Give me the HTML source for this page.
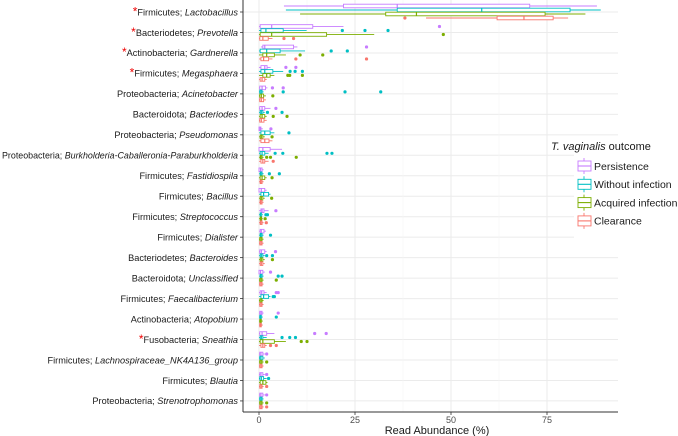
<!DOCTYPE html>
<html><head><meta charset="utf-8"><style>
body{margin:0;background:#fff}
svg{display:block;font-family:"Liberation Sans",Arial,sans-serif}
</style></head><body>
<svg id="chart" width="678" height="436" xmlns="http://www.w3.org/2000/svg">
<g id="grid"></g>
<g id="marks"></g>
<g id="axes"></g>
<g id="legend"></g>
</svg>
<script>
const phyla=["Firmicutes","Bacteriodetes","Actinobacteria","Firmicutes","Proteobacteria","Bacteroidota","Proteobacteria","Proteobacteria","Firmicutes","Firmicutes","Firmicutes","Firmicutes","Bacteriodetes","Bacteroidota","Firmicutes","Actinobacteria","Fusobacteria","Firmicutes","Firmicutes","Proteobacteria"];
const genera=["Lactobacillus","Prevotella","Gardnerella","Megasphaera","Acinetobacter","Bacteriodes","Pseudomonas","Burkholderia-Caballeronia-Paraburkholderia","Fastidiospila","Bacillus","Streptococcus","Dialister","Bacteroides","Unclassified","Faecalibacterium","Atopobium","Sneathia","Lachnospiraceae_NK4A136_group","Blautia","Strenotrophomonas"];
const starred=[1,1,1,1,0,0,0,0,0,0,0,0,0,0,0,0,1,0,0,0];
const groups=["Persistence","Without infection","Acquired infection","Clearance"];
const xTicks=[0,25,50,75];
// each: [whiskerLow, q1, median, q3, whiskerHigh]
const persistence=[[6.5,22,36,70.5,88],[0,0.3,3.3,14,22],[0.5,1,1.5,9,10],[0,0.5,1.5,2.1,3],[0,0.2,0.8,1.7,2.2],[0,0.2,0.8,1.5,3],[0,0,0.3,0.5,1],[0,0,1,2.9,6],[0,0,0.4,0.8,1.2],[0,0,0.6,1.5,2],[0,0.5,0.8,1.3,2.5],[0,0.3,0.6,1.3,1.8],[0,0.2,0.6,1.5,2],[0,0,0.4,1,1.5],[0,0.3,0.7,1.3,2],[0,0.2,0.5,0.8,1.2],[0,0.2,0.8,2,4],[0,0.2,0.5,1,1.5],[0,0.2,0.5,1,1.5],[0,0.2,0.5,1,1.5]];
const without=[[7,36,58,81,89],[0,0.5,1.8,6.3,12.4],[0,0.3,2,5.5,12],[0,0.5,1.5,3.6,6.3],[0,0.2,0.5,0.8,1.2],[0,0.3,0.6,1,1.5],[0,0.5,1.5,2.9,4],[0,0.3,0.8,1.5,2.5],[0,0.3,0.5,0.8,1.2],[0,0.5,1.2,2.5,3],[0,0.3,0.4,0.6,1],[0,0.3,0.5,0.8,1.2],[0,0.3,0.6,1,1.5],[0,0.3,0.5,0.8,1.2],[0,0.5,1.2,2.5,3],[0,0.2,0.4,0.6,1],[0,0.3,0.6,1,2],[0,0.2,0.5,1,1.5],[0,0.2,0.6,1.2,2],[0,0.2,0.5,0.8,1.2]];
const acquired=[[10.7,33,41,74.5,85],[0,0.3,3.3,17.6,30],[0,1,2,4,7],[0,1,2,2.9,4],[0,0.2,0.6,1.2,1.8],[0,0.3,0.8,1.5,2],[0,0.3,0.6,1,1.5],[0,0.3,0.5,0.8,1.2],[0,0.3,0.8,1.5,2],[0,0.3,0.6,1,1.5],[0,0.3,0.5,0.7,1],[0,0.2,0.5,0.8,1.2],[0,0.3,0.6,1,1.5],[0,0.2,0.5,0.8,1.2],[0,0.2,0.5,0.8,1.2],[0,0.2,0.4,0.6,1],[0,0.3,1,4,7],[0,0.2,0.5,0.8,1.2],[0,0.3,1,1.8,2.2],[0,0.2,0.5,0.8,1.2]];
const clearance=[[43.5,62,69,76.6,80.5],[0,0.2,1,2.4,3.5],[0,0.5,1.2,2.5,3.5],[0,0.3,0.8,1.5,2],[0,0.2,0.6,1.2,1.8],[0,0.2,0.6,1.3,2],[0,0.5,1.5,2.6,3.5],[0,0.5,1,1.5,2.5],[0,0.3,0.5,0.8,1.2],[0,0.3,0.5,0.8,1.2],[0,0.3,0.5,0.8,1.2],[0,0.2,0.5,0.8,1.2],[0,0.3,0.6,1,1.5],[0,0.2,0.5,0.8,1.2],[0,0.2,0.5,0.8,1.2],[0,0.2,0.4,0.6,1],[0,0.5,1,1.5,2],[0,0.2,0.5,0.8,1.2],[0,0.2,0.5,0.8,1.2],[0,0.2,0.5,0.8,1.2]];
const outP=[[],[47],[28],[7,9.6],[3.5,6.3],[4.4],[3.1],[],[],[],[4.4],[],[4.3],[3],[4.5,5],[5],[14.5,17.5],[2],[2],[2]];
const outW=[[],[21.7,27.6,33.6],[18.8,23],[8.1,9.4,11.3],[6.3,22.4,31.7],[2.2,6],[7.8],[4.2,6.2,17.7,19],[2.7,5.3],[],[1.8,2.2],[3],[2,3.5],[5,6],[3.7,4],[4.5],[6,8,9.5],[],[2.5],[]];
const outA=[[],[48],[10.7,16.6],[7.5,8,11.3],[3.6],[3.7,7.3],[3.4],[2,3,9.7],[3.4],[3.3],[1.6],[],[3.5],[4.5],[],[],[11,12.5],[2],[],[2]];
const outC=[[38],[6.5,9],[9.6,28],[],[],[],[],[3.7],[],[],[1.9],[],[],[],[],[],[3,4.5],[],[2],[2]];

const NS="http://www.w3.org/2000/svg";
const colors=["#C77CFF","#00BFC4","#7CAE00","#F8766D"];
const series=[persistence,without,acquired,clearance];
const outs=[outP,outW,outA,outC];
const X0=243,X1=618,Y0=0,Y1=412;
function xs(v){return 259+v*3.84;}
function ys(i){return 12+i*20.47;}
function mk(tag,attrs,parent){const e=document.createElementNS(NS,tag);for(const k in attrs)e.setAttribute(k,attrs[k]);parent.appendChild(e);return e;}
const grid=document.getElementById('grid'),marks=document.getElementById('marks'),axes=document.getElementById('axes'),legend=document.getElementById('legend');
for(let i=0;i<genera.length;i++){const l=mk('line',{x1:X0,x2:X1,y1:ys(i),y2:ys(i),stroke:'#ebebeb','stroke-width':1},grid);

}
for(const t of [12.5,37.5,62.5]){const l=mk('line',{x1:xs(t),x2:xs(t),y1:Y0,y2:Y1,stroke:'#f5f5f5','stroke-width':0.6},grid);

}
for(const t of xTicks){const l=mk('line',{x1:xs(t),x2:xs(t),y1:Y0,y2:Y1,stroke:'#ebebeb','stroke-width':1},grid);

}
const offs=[-6,-2,2,6];
for(let i=0;i<genera.length;i++){
 for(let g=0;g<4;g++){
  const d=series[g][i],c=colors[g],y=ys(i)+offs[g];
  const grp=mk('g',{},marks);
  
  
  mk('line',{x1:xs(d[0]),x2:xs(d[1]),y1:y,y2:y,stroke:c,'stroke-width':0.9},grp);
  mk('line',{x1:xs(d[3]),x2:xs(d[4]),y1:y,y2:y,stroke:c,'stroke-width':0.9},grp);
  mk('rect',{x:xs(d[1]),y:y-1.8,width:Math.max(xs(d[3])-xs(d[1]),1.5),height:3.6,fill:'#fff',stroke:c,'stroke-width':0.9},grp);
  mk('line',{x1:xs(d[2]),x2:xs(d[2]),y1:y-1.8,y2:y+1.8,stroke:c,'stroke-width':1.2},grp);
  for(const o of outs[g][i]){const p=mk('circle',{cx:xs(o),cy:y,r:1.6,fill:c},grp);
  
  }
 }
}
mk('line',{x1:X0,x2:X0,y1:0,y2:Y1,stroke:'#333','stroke-width':1},axes);
mk('line',{x1:X0,x2:X1,y1:Y1,y2:Y1,stroke:'#333','stroke-width':1},axes);
for(let i=0;i<genera.length;i++){
 mk('line',{x1:X0-3,x2:X0,y1:ys(i),y2:ys(i),stroke:'#333','stroke-width':0.8},axes);
 const t=mk('text',{x:X0-5,y:ys(i)+3.3,'text-anchor':'end','font-size':'9.2',fill:'#1a1a1a'},axes);
 
 
 if(starred[i]){const s=mk('tspan',{fill:'#e00','font-size':'12'},t);s.textContent='*';}
 const a=mk('tspan',{},t);a.textContent=phyla[i]+'; ';
 const b=mk('tspan',{'font-style':'italic'},t);b.textContent=genera[i];
 const w=t.getComputedTextLength();
 if(w>236){t.setAttribute('textLength',236);t.setAttribute('lengthAdjust','spacingAndGlyphs');}
}
for(const v of xTicks){
 mk('line',{x1:xs(v),x2:xs(v),y1:Y1,y2:Y1+3,stroke:'#333','stroke-width':0.8},axes);
 const t=mk('text',{x:xs(v),y:423,'text-anchor':'middle','font-size':'9',fill:'#4d4d4d'},axes);
 
 
 t.textContent=v;
}
const xt=mk('text',{x:437,y:434,'text-anchor':'middle','font-size':'11',fill:'#1a1a1a'},axes);


xt.textContent='Read Abundance (%)';
mk('rect',{x:574,y:142,width:104,height:100,fill:'#fff'},legend);
const lt=mk('text',{x:551,y:150,'font-size':'11',fill:'#1a1a1a'},legend);


const lti=mk('tspan',{'font-style':'italic'},lt);lti.textContent='T. vaginalis';
const ltr=mk('tspan',{},lt);ltr.textContent=' outcome';
for(let g=0;g<4;g++){
 const y=166+g*18.3,c=colors[g];
 const e=mk('g',{},legend);
 
 
 mk('line',{x1:584,x2:584,y1:y-8,y2:y+8,stroke:c,'stroke-width':0.9},e);
 mk('rect',{x:578,y:y-5,width:13,height:10,fill:'#fff',stroke:c,'stroke-width':0.9},e);
 mk('line',{x1:578,x2:591,y1:y,y2:y,stroke:c,'stroke-width':1.1},e);
 const t=mk('text',{x:594,y:y+3.8,'font-size':'10.5',fill:'#1a1a1a'},e);t.textContent=groups[g];
}
</script>
</body></html>
